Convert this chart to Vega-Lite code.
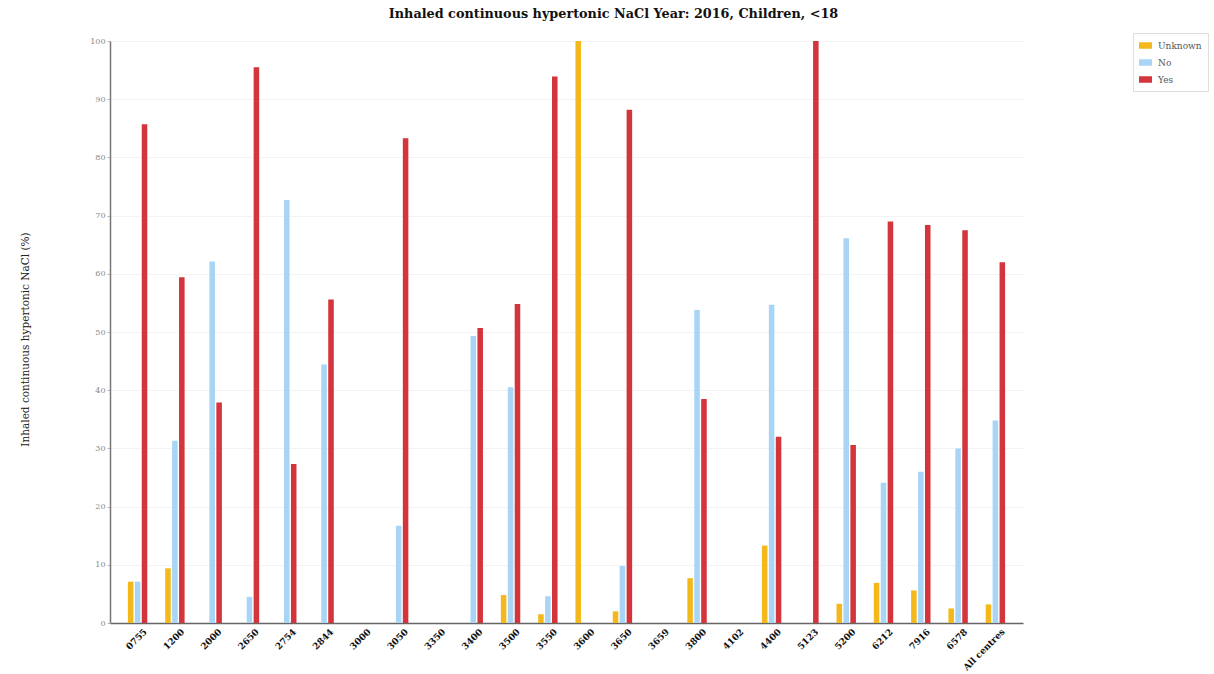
{
  "$schema": "https://vega.github.io/schema/vega-lite/v6.json",
  "width": 913,
  "height": 582,
  "autosize": {"type": "none"},
  "padding": {"left": 110, "top": 41, "right": 191, "bottom": 51},
  "background": "white",
  "title": {
    "text": "Inhaled continuous hypertonic NaCl Year: 2016, Children, <18",
    "font": "DejaVu Serif",
    "fontSize": 12.8,
    "fontWeight": "bold",
    "color": "#111111",
    "frame": "group",
    "anchor": "middle",
    "offset": 12,
    "dx": 47
  },
  "data": {
    "values": [
      {"centre": "0755", "response": "Unknown", "value": 7.1},
      {"centre": "0755", "response": "No", "value": 7.1},
      {"centre": "0755", "response": "Yes", "value": 85.7},
      {"centre": "1200", "response": "Unknown", "value": 9.4},
      {"centre": "1200", "response": "No", "value": 31.3},
      {"centre": "1200", "response": "Yes", "value": 59.4},
      {"centre": "2000", "response": "No", "value": 62.1},
      {"centre": "2000", "response": "Yes", "value": 37.9},
      {"centre": "2650", "response": "No", "value": 4.5},
      {"centre": "2650", "response": "Yes", "value": 95.5},
      {"centre": "2754", "response": "No", "value": 72.7},
      {"centre": "2754", "response": "Yes", "value": 27.3},
      {"centre": "2844", "response": "No", "value": 44.4},
      {"centre": "2844", "response": "Yes", "value": 55.6},
      {"centre": "3050", "response": "No", "value": 16.7},
      {"centre": "3050", "response": "Yes", "value": 83.3},
      {"centre": "3400", "response": "No", "value": 49.3},
      {"centre": "3400", "response": "Yes", "value": 50.7},
      {"centre": "3500", "response": "Unknown", "value": 4.8},
      {"centre": "3500", "response": "No", "value": 40.5},
      {"centre": "3500", "response": "Yes", "value": 54.8},
      {"centre": "3550", "response": "Unknown", "value": 1.5},
      {"centre": "3550", "response": "No", "value": 4.6},
      {"centre": "3550", "response": "Yes", "value": 93.9},
      {"centre": "3600", "response": "Unknown", "value": 100},
      {"centre": "3650", "response": "Unknown", "value": 2.0},
      {"centre": "3650", "response": "No", "value": 9.8},
      {"centre": "3650", "response": "Yes", "value": 88.2},
      {"centre": "3800", "response": "Unknown", "value": 7.7},
      {"centre": "3800", "response": "No", "value": 53.8},
      {"centre": "3800", "response": "Yes", "value": 38.5},
      {"centre": "4400", "response": "Unknown", "value": 13.3},
      {"centre": "4400", "response": "No", "value": 54.7},
      {"centre": "4400", "response": "Yes", "value": 32.0},
      {"centre": "5123", "response": "Yes", "value": 100},
      {"centre": "5200", "response": "Unknown", "value": 3.3},
      {"centre": "5200", "response": "No", "value": 66.1},
      {"centre": "5200", "response": "Yes", "value": 30.6},
      {"centre": "6212", "response": "Unknown", "value": 6.9},
      {"centre": "6212", "response": "No", "value": 24.1},
      {"centre": "6212", "response": "Yes", "value": 69.0},
      {"centre": "7916", "response": "Unknown", "value": 5.6},
      {"centre": "7916", "response": "No", "value": 26.0},
      {"centre": "7916", "response": "Yes", "value": 68.4},
      {"centre": "6578", "response": "Unknown", "value": 2.5},
      {"centre": "6578", "response": "No", "value": 30.0},
      {"centre": "6578", "response": "Yes", "value": 67.5},
      {"centre": "All centres", "response": "Unknown", "value": 3.2},
      {"centre": "All centres", "response": "No", "value": 34.8},
      {"centre": "All centres", "response": "Yes", "value": 62.0}
    ]
  },
  "mark": {"type": "bar"},
  "encoding": {
    "x": {
      "field": "centre",
      "type": "nominal",
      "scale": {
        "domain": ["0755", "1200", "2000", "2650", "2754", "2844", "3000", "3050", "3350", "3400", "3500", "3550", "3600", "3650", "3659", "3800", "4102", "4400", "5123", "5200", "6212", "7916", "6578", "All centres"],
        "paddingInner": 0.48,
        "paddingOuter": 0.48
      },
      "axis": {
        "title": null,
        "labelAngle": -45,
        "labelFont": "DejaVu Serif",
        "labelFontSize": 9,
        "labelFontWeight": "bold",
        "labelColor": "#111111",
        "labelPadding": 4,
        "labelOffset": 5,
        "ticks": false,
        "domainColor": "#666666",
        "domainWidth": 1.5,
        "grid": false
      }
    },
    "xOffset": {
      "field": "response",
      "type": "nominal",
      "scale": {"domain": ["Unknown", "No", "Yes"], "paddingInner": 0.2}
    },
    "y": {
      "field": "value",
      "type": "quantitative",
      "scale": {"domain": [0, 100], "nice": false},
      "axis": {
        "title": "Inhaled continuous hypertonic NaCl (%)",
        "titleFont": "DejaVu Serif",
        "titleFontSize": 10.5,
        "titleFontWeight": "normal",
        "titleColor": "#222222",
        "titleX": -85,
        "titleY": 298,
        "titleAlign": "center",
        "titleBaseline": "middle",
        "titleAngle": -90,
        "values": [0, 10, 20, 30, 40, 50, 60, 70, 80, 90, 100],
        "labelFont": "DejaVu Serif",
        "labelFontSize": 8,
        "labelColor": "#888888",
        "labelPadding": 2,
        "tickSize": 3,
        "tickColor": "#bbbbbb",
        "domainColor": "#777777",
        "domainWidth": 1.5,
        "grid": true,
        "gridColor": "#f3f3f3"
      }
    },
    "color": {
      "field": "response",
      "type": "nominal",
      "scale": {
        "domain": ["Unknown", "No", "Yes"],
        "range": ["#F2B81C", "#A8D5F5", "#D4343B"]
      },
      "legend": {
        "title": null,
        "orient": "none",
        "legendX": 1023,
        "legendY": -8,
        "padding": 6,
        "strokeColor": "#dddddd",
        "fillColor": "white",
        "symbolType": "M-1,-0.5L1,-0.5L1,0.5L-1,0.5Z",
        "symbolSize": 169,
        "symbolStrokeWidth": 0,
        "labelFont": "DejaVu Serif",
        "labelFontSize": 9,
        "labelColor": "#555555",
        "rowPadding": 5,
        "labelOffset": 6
      }
    }
  },
  "config": {"view": {"stroke": null}}
}
